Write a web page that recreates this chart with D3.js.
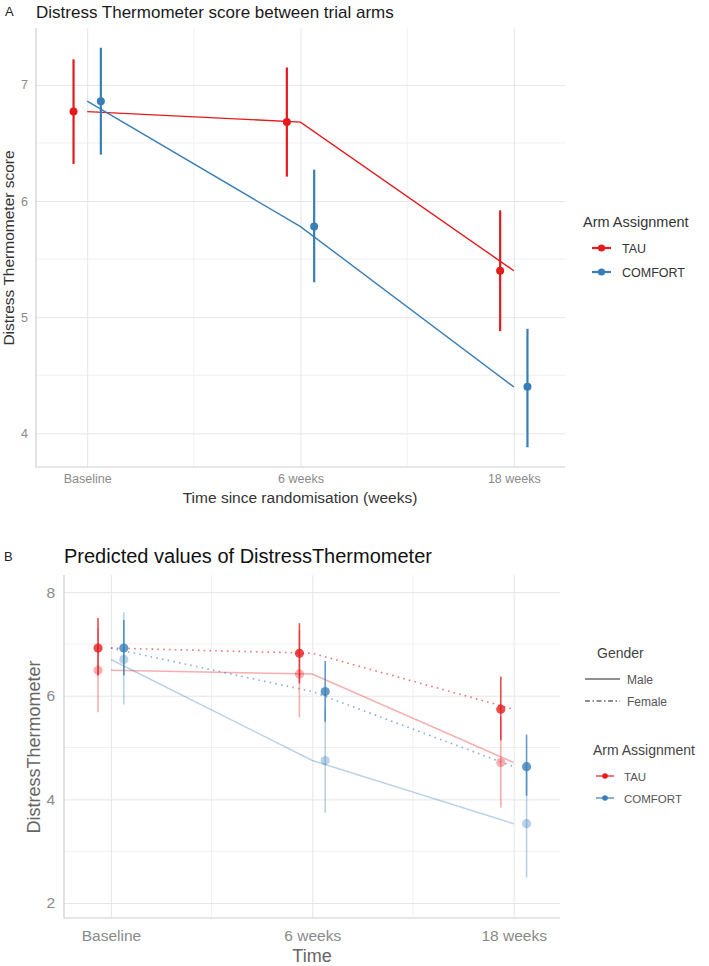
<!DOCTYPE html>
<html>
<head>
<meta charset="utf-8">
<script src="https://cdn.jsdelivr.net/npm/d3@7"></script>
<style>
  body { margin: 0; background: #fff; }
  text { font-family: "Liberation Sans", Arial, sans-serif; }
</style>
</head>
<body>
<div id="chart"></div>
<script>
// ---- data ----
var timeLabels = ["Baseline", "6 weeks", "18 weeks"];
var timeIndex = [1, 2, 3];
var armNames = ["TAU", "COMFORT"];
var genderNames = ["Male", "Female"];

// panel A: observed means with CI
var tauMean = [6.77, 6.68, 5.40];
var tauLow = [6.32, 6.21, 4.88];
var tauHigh = [7.22, 7.15, 5.92];
var comfortMean = [6.86, 5.78, 4.40];
var comfortLow = [6.40, 5.30, 3.88];
var comfortHigh = [7.32, 6.27, 4.90];

// panel B: predicted values by gender
var tauMaleMean = [6.49, 6.42, 4.71];
var tauMaleLow = [5.68, 5.58, 3.84];
var tauMaleHigh = [7.30, 7.26, 5.58];
var tauFemaleMean = [6.92, 6.82, 5.74];
var tauFemaleLow = [6.39, 6.24, 5.14];
var tauFemaleHigh = [7.50, 7.40, 6.37];
var comfortMaleMean = [6.70, 4.75, 3.53];
var comfortMaleLow = [5.83, 3.74, 2.49];
var comfortMaleHigh = [7.61, 5.76, 4.60];
var comfortFemaleMean = [6.92, 6.08, 4.63];
var comfortFemaleLow = [6.39, 5.50, 4.07];
var comfortFemaleHigh = [7.46, 6.67, 5.25];

var yTicksA = [4, 5, 6, 7];
var yMinorA = [4.5, 5.5, 6.5];
var yTicksB = [2, 4, 6, 8];
var yMinorB = [3, 5, 7];
var xMinor = [1.5, 2.5];

var red = "#e41a1c", blue = "#377eb8";
var armColor = { "TAU": red, "COMFORT": blue };
var dodge = { "TAU": -0.064, "COMFORT": 0.064 };

function rows(arm, mean, low, high) {
  return timeIndex.map(function(t, i) {
    return { arm: arm, t: t, mean: mean[i], low: low[i], high: high[i] };
  });
}

var seriesA = [
  { arm: "TAU", values: rows("TAU", tauMean, tauLow, tauHigh) },
  { arm: "COMFORT", values: rows("COMFORT", comfortMean, comfortLow, comfortHigh) }
];

var seriesB = [
  { arm: "TAU", gender: "Male", values: rows("TAU", tauMaleMean, tauMaleLow, tauMaleHigh) },
  { arm: "COMFORT", gender: "Male", values: rows("COMFORT", comfortMaleMean, comfortMaleLow, comfortMaleHigh) },
  { arm: "TAU", gender: "Female", values: rows("TAU", tauFemaleMean, tauFemaleLow, tauFemaleHigh) },
  { arm: "COMFORT", gender: "Female", values: rows("COMFORT", comfortFemaleMean, comfortFemaleLow, comfortFemaleHigh) }
];

var w = 709, h = 966;
var svg = d3.select("#chart").append("svg")
  .attr("width", w)
  .attr("height", h);

// shared grid / axis helper
function drawFrame(x, y, yTicks, yMinor, opt) {
  var x0 = x.range()[0], x1 = x.range()[1];
  var y0 = y.range()[0], y1 = y.range()[1];
  var g = svg.append("g");

  g.selectAll(".ymin").data(yMinor).enter().append("line")
    .attr("x1", x0).attr("x2", x1)
    .attr("y1", function(d) { return y(d); }).attr("y2", function(d) { return y(d); })
    .style("stroke", "#f0f0f0").style("stroke-width", 1);
  g.selectAll(".xmin").data(xMinor).enter().append("line")
    .attr("y1", y0).attr("y2", y1)
    .attr("x1", function(d) { return x(d); }).attr("x2", function(d) { return x(d); })
    .style("stroke", "#f0f0f0").style("stroke-width", 1);

  var yAxis = d3.axisLeft(y).tickValues(yTicks).tickFormat(d3.format("d"))
    .tickSizeInner(-(x1 - x0)).tickSizeOuter(0).tickPadding(opt.pad);
  var ya = g.append("g").attr("transform", "translate(" + x0 + ",0)").call(yAxis);
  ya.select(".domain").remove();
  ya.selectAll(".tick line").style("stroke", "#e6e6e6");
  ya.selectAll(".tick text").style("fill", "#8a8a8a").style("font-size", opt.tick + "px")
    .attr("font-family", "Liberation Sans, Arial, sans-serif");

  var xAxis = d3.axisBottom(x).tickValues(timeIndex)
    .tickFormat(function(d, i) { return timeLabels[i]; })
    .tickSizeInner(-(y0 - y1)).tickSizeOuter(0).tickPadding(opt.xpad);
  var xa = g.append("g").attr("transform", "translate(0," + y0 + ")").call(xAxis);
  xa.select(".domain").remove();
  xa.selectAll(".tick line").style("stroke", "#e6e6e6");
  xa.selectAll(".tick text").style("fill", "#8a8a8a").style("font-size", opt.tick + "px")
    .attr("font-family", "Liberation Sans, Arial, sans-serif");

  // axis lines
  g.append("line").attr("x1", x0).attr("x2", x0).attr("y1", y1).attr("y2", y0 + 0.5)
    .style("stroke", "#cfcfcf").style("stroke-width", 1.2);
  g.append("line").attr("x1", x0).attr("x2", x1).attr("y1", y0).attr("y2", y0)
    .style("stroke", "#cfcfcf").style("stroke-width", 1.2);
}

// ================= Panel A =================
var xA = d3.scaleLinear().domain([0.76, 3.24]).range([36, 565]);
var yA = d3.scaleLinear().domain([3.71, 7.49]).range([467, 28]);

drawFrame(xA, yA, yTicksA, yMinorA, { pad: 8, xpad: 7, tick: 12.5 });

var lineA = d3.line()
  .x(function(d) { return xA(d.t); })
  .y(function(d) { return yA(d.mean); });

var gA = svg.append("g");
gA.selectAll(".trend").data(seriesA).enter().append("path")
  .attr("d", function(s) { return lineA(s.values); })
  .style("fill", "none")
  .style("stroke", function(s) { return armColor[s.arm]; })
  .style("stroke-width", 1.4);

seriesA.forEach(function(s) {
  gA.selectAll(null).data(s.values).enter().append("line")
    .attr("x1", function(d) { return xA(d.t + dodge[d.arm]); })
    .attr("x2", function(d) { return xA(d.t + dodge[d.arm]); })
    .attr("y1", function(d) { return yA(d.low); })
    .attr("y2", function(d) { return yA(d.high); })
    .style("stroke", armColor[s.arm]).style("stroke-width", 2.2);
  gA.selectAll(null).data(s.values).enter().append("circle")
    .attr("cx", function(d) { return xA(d.t + dodge[d.arm]); })
    .attr("cy", function(d) { return yA(d.mean); })
    .attr("r", 4)
    .style("fill", armColor[s.arm]);
});

svg.append("text").attr("x", 5).attr("y", 16).style("font-size", "13px").style("fill", "#222").text("A");
svg.append("text").attr("x", 36).attr("y", 18).style("font-size", "17px").style("fill", "#1a1a1a")
  .text("Distress Thermometer score between trial arms");
svg.append("text").attr("x", 300).attr("y", 503).attr("text-anchor", "middle")
  .style("font-size", "15.5px").style("fill", "#333").text("Time since randomisation (weeks)");
svg.append("text").attr("transform", "translate(14,248) rotate(-90)").attr("text-anchor", "middle")
  .style("font-size", "15.5px").style("fill", "#333").text("Distress Thermometer score");

// legend A
var legA = svg.append("g").attr("transform", "translate(583,0)");
legA.append("text").attr("x", 0).attr("y", 227).style("font-size", "14.5px").style("fill", "#333").text("Arm Assignment");
legA.selectAll(".k").data(armNames).enter().append("g")
  .attr("transform", function(d, i) { return "translate(0," + (248 + i * 24) + ")"; })
  .each(function(d) {
    var k = d3.select(this);
    k.append("line").attr("x1", 9).attr("x2", 28).style("stroke", armColor[d]).style("stroke-width", 2.2);
    k.append("circle").attr("cx", 18.5).attr("r", 3.6).style("fill", armColor[d]);
    k.append("text").attr("x", 39).attr("y", 4.5).style("font-size", "12.5px").style("fill", "#333").text(d);
  });

// ================= Panel B =================
var xB = d3.scaleLinear().domain([0.767, 3.23]).range([64, 560]);
var yB = d3.scaleLinear().domain([1.71, 8.33]).range([918, 575]);

drawFrame(xB, yB, yTicksB, yMinorB, { pad: 9, xpad: 12, tick: 15.5 });

var lineB = d3.line()
  .x(function(d) { return xB(d.t); })
  .y(function(d) { return yB(d.mean); });

var alphaB = { "Male": 0.35, "Female": 0.78 };
var gB = svg.append("g");
seriesB.forEach(function(s) {
  gB.append("path")
    .attr("d", lineB(s.values))
    .style("fill", "none")
    .style("stroke", armColor[s.arm])
    .style("stroke-opacity", s.gender == "Male" ? 0.35 : 0.6)
    .style("stroke-width", s.gender == "Male" ? 1.5 : 1.6)
    .style("stroke-dasharray", s.gender == "Male" ? null : "1.6,4.2");
});
seriesB.forEach(function(s) {
  gB.selectAll(null).data(s.values).enter().append("line")
    .attr("x1", function(d) { return xB(d.t + dodge[d.arm]); })
    .attr("x2", function(d) { return xB(d.t + dodge[d.arm]); })
    .attr("y1", function(d) { return yB(d.low); })
    .attr("y2", function(d) { return yB(d.high); })
    .style("stroke", armColor[s.arm])
    .style("stroke-opacity", alphaB[s.gender])
    .style("stroke-width", 1.6);
  gB.selectAll(null).data(s.values).enter().append("circle")
    .attr("cx", function(d) { return xB(d.t + dodge[d.arm]); })
    .attr("cy", function(d) { return yB(d.mean); })
    .attr("r", 4.6)
    .style("fill", armColor[s.arm])
    .style("fill-opacity", alphaB[s.gender]);
});

svg.append("text").attr("x", 4).attr("y", 561).style("font-size", "13px").style("fill", "#222").text("B");
svg.append("text").attr("x", 64).attr("y", 563).style("font-size", "20px").style("fill", "#111")
  .text("Predicted values of DistressThermometer");
svg.append("text").attr("x", 312).attr("y", 962).attr("text-anchor", "middle")
  .style("font-size", "18px").style("fill", "#666").text("Time");
svg.append("text").attr("transform", "translate(40,747) rotate(-90)").attr("text-anchor", "middle")
  .style("font-size", "18px").style("fill", "#666").text("DistressThermometer");

// legend B
var legB = svg.append("g");
legB.append("text").attr("x", 597).attr("y", 658).style("font-size", "14px").style("fill", "#444").text("Gender");
var dashes = { "Male": null, "Female": "5,2.5,1.5,2.5" };
legB.selectAll(".g").data(genderNames).enter().append("g")
  .attr("transform", function(d, i) { return "translate(0," + (679 + i * 22) + ")"; })
  .each(function(d) {
    var k = d3.select(this);
    k.append("line").attr("x1", 585).attr("x2", 620).style("stroke", "#222").style("stroke-width", 1.1)
      .style("stroke-dasharray", dashes[d]);
    k.append("text").attr("x", 627).attr("y", 4.5).style("font-size", "12px").style("fill", "#555").text(d);
  });
legB.append("text").attr("x", 593).attr("y", 755).style("font-size", "14px").style("fill", "#444").text("Arm Assignment");
legB.selectAll(".a").data(armNames).enter().append("g")
  .attr("transform", function(d, i) { return "translate(0," + (776 + i * 22) + ")"; })
  .each(function(d) {
    var k = d3.select(this);
    k.append("line").attr("x1", 596).attr("x2", 614).style("stroke", armColor[d]).style("stroke-width", 1.2);
    k.append("circle").attr("cx", 605).attr("r", 2.8).style("fill", armColor[d]);
    k.append("text").attr("x", 624).attr("y", 4.5).style("font-size", "11.5px").style("fill", "#555").text(d);
  });
</script>
</body>
</html>
